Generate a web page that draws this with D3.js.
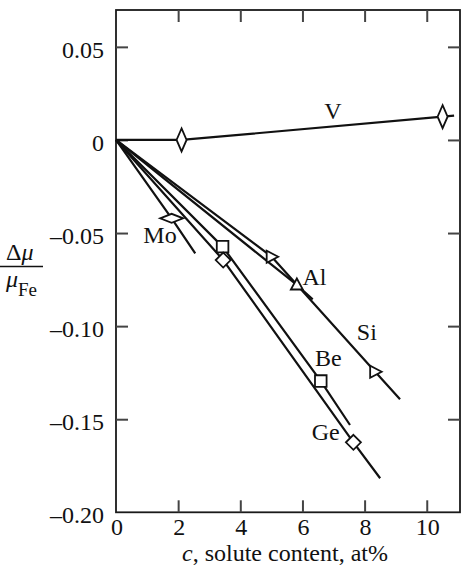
<!DOCTYPE html>
<html><head><meta charset="utf-8">
<script src="https://cdn.jsdelivr.net/npm/d3@7"></script>
<style>
html,body{margin:0;padding:0;background:#fff;}
svg text{font-family:"Liberation Serif","Times New Roman",serif;fill:#111;}
</style></head>
<body><svg id="c" width="471" height="579"></svg>
<script>
// x ticks and y ticks
const xTicks = [0, 2, 4, 6, 8, 10];
const yTicks = [0.05, 0, -0.05, -0.10, -0.15, -0.20];
const yTickLabels = ["0.05", "0", "\u20130.05", "\u20130.10", "\u20130.15", "\u20130.20"];

// series: line vertices (c, Δμ/μFe) and marker points
const seriesNames = ["V", "Mo", "Be", "Ge", "Al", "Si"];
const V_line = [[0, 0], [2.11, 0], [10.51, 0.0125], [10.88, 0.0131]];
const V_pts = [[2.11, 0], [10.51, 0.0125]];
const Mo_line = [[0, 0], [1.79, -0.0421], [2.55, -0.0609]];
const Mo_pts = [[1.79, -0.0421]];
const Be_line = [[0, 0], [3.43, -0.0573], [6.59, -0.1295], [7.53, -0.1531]];
const Be_pts = [[3.43, -0.0573], [6.59, -0.1295]];
const Ge_line = [[0, 0], [3.45, -0.0645], [7.64, -0.1624], [8.50, -0.1817]];
const Ge_pts = [[3.45, -0.0645], [7.64, -0.1624]];
const Al_line = [[0, 0], [5.82, -0.0779], [6.33, -0.0856]];
const Al_pts = [[5.82, -0.0779]];
const Si_line = [[0, 0], [5.01, -0.0627], [8.34, -0.1245], [9.14, -0.1393]];
const Si_pts = [[5.01, -0.0627], [8.34, -0.1245]];
// label anchor positions (data coords)
const labelPos = {V: [6.7, 0.0112], Mo: [0.88, -0.0553], Be: [6.4, -0.1216], Ge: [6.3, -0.1611], Al: [6.0, -0.0779], Si: [7.75, -0.1074]};

const svg = d3.select("#c");
const L = 116, R = 460, T = 10, B = 512.3;
const x = d3.scaleLinear().domain([0, 11.07]).range([L, R]);
const y = d3.scaleLinear().domain([-0.20, 0.0698]).range([B, T]);

// frame
svg.append("rect").attr("x", L).attr("y", T).attr("width", R - L).attr("height", B - T)
  .attr("fill", "none").attr("stroke", "#1a1a1a").attr("stroke-width", 1.8);

const tickCol = "#444", tl = 12;
const xIn = xTicks.filter(d => d > 0);
const yIn = yTicks.filter(d => d > -0.2);
// bottom axis
const gB = svg.append("g").attr("transform", `translate(0,${B})`)
  .call(d3.axisBottom(x).tickValues(xIn).tickSize(-tl).tickFormat(""));
const gT = svg.append("g").attr("transform", `translate(0,${T})`)
  .call(d3.axisTop(x).tickValues(xIn).tickSize(-tl).tickFormat(""));
const gL = svg.append("g").attr("transform", `translate(${L},0)`)
  .call(d3.axisLeft(y).tickValues(yIn).tickSize(-tl).tickFormat(""));
const gR = svg.append("g").attr("transform", `translate(${R},0)`)
  .call(d3.axisRight(y).tickValues(yIn).tickSize(-tl).tickFormat(""));
[gB, gT, gL, gR].forEach(g => {
  g.select(".domain").remove();
  g.selectAll(".tick line").attr("stroke", tickCol).attr("stroke-width", 2);
});

// tick labels
svg.append("g").selectAll("text").data(xTicks).join("text")
  .attr("x", d => x(d) + 1).attr("y", 535).attr("text-anchor", "middle")
  .attr("font-size", 24).text(d => d);
svg.append("g").selectAll("text").data(yTicks).join("text")
  .attr("x", 104).attr("y", d => y(d) + 11).attr("text-anchor", "end")
  .attr("font-size", 24).text((d, i) => yTickLabels[i]);

// x axis title
const xt = svg.append("text").attr("x", 285).attr("y", 561).attr("text-anchor", "middle").attr("font-size", 24);
xt.append("tspan").attr("font-style", "italic").text("c");
xt.append("tspan").text(", solute content, at%");

// y axis title fraction
const yn = svg.append("text").attr("x", 6).attr("y", 260).attr("font-size", 24);
yn.append("tspan").text("\u0394");
yn.append("tspan").attr("font-style", "italic").text("\u03bc");
svg.append("line").attr("x1", 0).attr("x2", 43).attr("y1", 266.5).attr("y2", 266.5)
  .attr("stroke", "#111").attr("stroke-width", 1.5);
const yd = svg.append("text").attr("x", 6).attr("y", 287).attr("font-size", 24);
yd.append("tspan").attr("font-style", "italic").text("\u03bc");
yd.append("tspan").attr("font-size", 19).attr("dy", 9).text("Fe");

// lines
const line = d3.line().x(d => x(d[0])).y(d => y(d[1]));
const lines = [V_line, Mo_line, Be_line, Ge_line, Al_line, Si_line];
svg.append("g").selectAll("path").data(lines).join("path")
  .attr("d", line).attr("fill", "none").attr("stroke", "#111").attr("stroke-width", 2.2)
  .attr("stroke-linejoin", "round");

// markers
function markerPath(type) {
  switch (type) {
    case "tallDiamond": return "M0,-11.5L5,0L0,11.5L-5,0Z";
    case "wideDiamond": return "M-11.5,0L0,-4.5L11.5,0L0,4.5Z";
    case "square": return "M-5.8,-5.8H5.8V5.8H-5.8Z";
    case "diamond": return "M0,-7.5L7.5,0L0,7.5L-7.5,0Z";
    case "triUp": return "M0,-6.5L6,4.5L-6,4.5Z";
    case "triRight": return "M6.5,0L-5,-6L-5,6Z";
  }
}
const markerSets = [
  [V_pts, "tallDiamond"], [Mo_pts, "wideDiamond"], [Be_pts, "square"],
  [Ge_pts, "diamond"], [Al_pts, "triUp"], [Si_pts, "triRight"]
];
markerSets.forEach(([pts, type]) => {
  svg.append("g").selectAll("path").data(pts).join("path")
    .attr("transform", d => `translate(${x(d[0])},${y(d[1])})`)
    .attr("d", markerPath(type)).attr("fill", "#fff").attr("stroke", "#111").attr("stroke-width", 1.8);
});

// series labels
svg.append("g").selectAll("text").data(seriesNames).join("text")
  .attr("x", d => x(labelPos[d][0])).attr("y", d => y(labelPos[d][1]))
  .attr("font-size", 24).text(d => d);
</script></body></html>
